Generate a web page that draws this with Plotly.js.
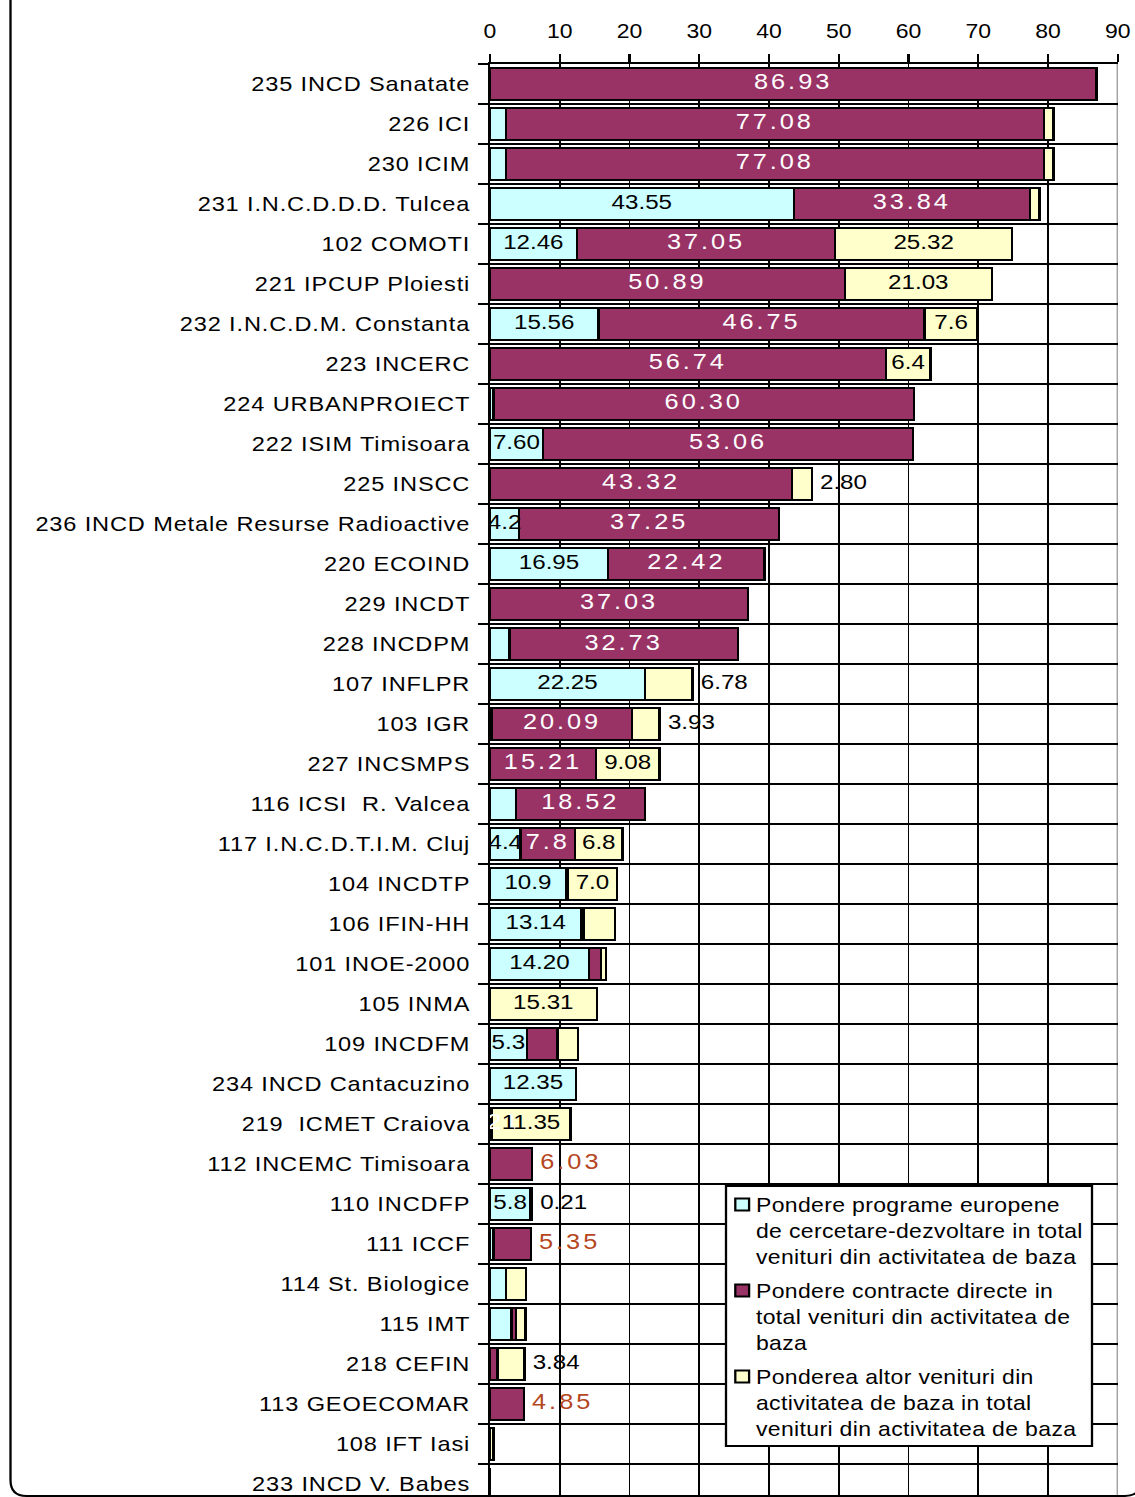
<!DOCTYPE html>
<html>
<head>
<meta charset="utf-8">
<script src="https://cdn.plot.ly/plotly-3.0.1.min.js"></script>
<style>
  html, body { margin: 0; padding: 0; background: #fff; overflow: hidden; }
  #wrap { width: 987px; height: 1497px; transform: scaleX(1.15); transform-origin: 0 0; }
  .ytick text { letter-spacing: 0.75px; }
  .legendtext { letter-spacing: 0.3px; }
  .legend .legendsymbols { transform: translateX(8px); }
  .textpoint text[style*="rgb(255, 255, 255)"],
  .textpoint text[style*="rgb(181, 70, 30)"] { letter-spacing: 2.6px; }
</style>
</head>
<body>
<div id="wrap"><div id="chart"></div></div>
<script>
// ---------------- DATA (top to bottom) ----------------
const categories = [
  "235 INCD Sanatate", "226 ICI", "230 ICIM", "231 I.N.C.D.D.D. Tulcea", "102 COMOTI",
  "221 IPCUP Ploiesti", "232 I.N.C.D.M. Constanta", "223 INCERC", "224 URBANPROIECT",
  "222 ISIM Timisoara", "225 INSCC", "236 INCD Metale Resurse Radioactive", "220 ECOIND",
  "229 INCDT", "228 INCDPM", "107 INFLPR", "103 IGR", "227 INCSMPS", "116 ICSI\u00a0 R. Valcea",
  "117 I.N.C.D.T.I.M. Cluj", "104 INCDTP", "106 IFIN-HH", "101 INOE-2000", "105 INMA",
  "109 INCDFM", "234 INCD Cantacuzino", "219\u00a0 ICMET Craiova", "112 INCEMC Timisoara",
  "110 INCDFP", "111 ICCF", "114 St. Biologice", "115 IMT", "218 CEFIN", "113 GEOECOMAR",
  "108 IFT Iasi", "233 INCD V. Babes"
];

const seriesNames = [
  "Pondere programe europene<br>de cercetare-dezvoltare in total<br>venituri din activitatea de baza",
  "Pondere contracte directe in<br>total venituri din activitatea de<br>baza",
  "Ponderea altor venituri din<br>activitatea de baza in total<br>venituri din activitatea de baza"
];

const european = [0, 2.3, 2.3, 43.55, 12.46, 0, 15.56, 0, 0.5, 7.60, 0, 4.2, 16.95, 0, 2.8,
  22.25, 0.3, 0, 3.7, 4.4, 10.9, 13.14, 14.20, 0, 5.3, 12.35, 0, 0, 5.8, 0.5, 2.3, 3.1, 0, 0, 0, 0];
const contracts = [86.93, 77.08, 77.08, 33.84, 37.05, 50.89, 46.75, 56.74, 60.30, 53.06, 43.32,
  37.25, 22.42, 37.03, 32.73, 0, 20.09, 15.21, 18.52, 7.8, 0.3, 0.3, 1.7, 0, 4.4, 0, 0.21, 6.03,
  0, 5.35, 0, 0.6, 1.1, 4.85, 0, 0];
const others = [0, 1.4, 1.4, 1.4, 25.32, 21.03, 7.6, 6.4, 0, 0, 2.80, 0, 0, 0, 0, 6.78, 3.93,
  9.08, 0, 6.8, 7.0, 4.5, 0.7, 15.31, 2.9, 0, 11.35, 0, 0.21, 0, 2.9, 1.4, 3.84, 0, 0.5, 0];

const europeanLabels = ["", "", "", "43.55", "12.46", "", "15.56", "", "", "7.60", "", "4.2",
  "16.95", "", "", "22.25", "", "", "", "4.4", "10.9", "13.14", "14.20", "", "5.3", "12.35",
  "", "", "5.8", "", "", "", "", "", "", ""];
const contractsLabels = ["86.93", "77.08", "77.08", "33.84", "37.05", "50.89", "46.75", "56.74",
  "60.30", "53.06", "43.32", "37.25", "22.42", "37.03", "32.73", "", "20.09", "15.21", "18.52",
  "7.8", "", "", "", "", "", "", "0.21", "", "", "", "", "", "", "", "", ""];
const contractsLabelsOut = ["", "", "", "", "", "", "", "", "", "", "", "", "", "", "", "", "",
  "", "", "", "", "", "", "", "", "", "", "6.03", "", "5.35", "", "", "", "4.85", "", ""];
const othersLabels = ["", "", "", "", "25.32", "21.03", "7.6", "6.4", "", "", "", "", "", "",
  "", "", "", "9.08", "", "6.8", "7.0", "", "", "15.31", "", "", "11.35", "", "", "", "", "",
  "", "", "", ""];
const othersLabelsOut = ["", "", "", "", "", "", "", "", "", "", "2.80", "", "", "", "", "6.78",
  "3.93", "", "", "", "", "", "", "", "", "", "", "", "0.21", "", "", "", "3.84", "", "", ""];

const xTicks = [0, 10, 20, 30, 40, 50, 60, 70, 80, 90];

// ---------------- STYLE ----------------
const FONT = "Liberation Sans, Arial, sans-serif";
const COLORS = ["#CCFFFF", "#993366", "#FFFFCC"];

const cum1 = european.map(v => v);
const cum2 = european.map((v, i) => v + contracts[i]);
const totals = european.map((v, i) => v + contracts[i] + others[i]);

function barTrace(vals, name, color, grp) {
  return {
    type: "bar", orientation: "h", x: vals, y: categories, name: name, legendgroup: grp,
    marker: { color: color, line: { color: "#000", width: 2 } },
    hoverinfo: "x+y"
  };
}
function textTrace(xs, labels, color, size, pos) {
  const outside = pos !== "middle center";
  return {
    type: "scatter", mode: outside ? "markers+text" : "text", x: xs, y: categories, text: labels,
    marker: { size: 10, opacity: 0 },
    textposition: pos, textfont: { family: FONT, size: size, color: color },
    showlegend: false, hoverinfo: "skip", cliponaxis: false
  };
}

const traces = [
  barTrace(european, seriesNames[0], COLORS[0], "g1"),
  barTrace(contracts, seriesNames[1], COLORS[1], "g2"),
  barTrace(others, seriesNames[2], COLORS[2], "g3"),
  textTrace(european.map(v => v / 2), europeanLabels, "#000", 21, "middle center"),
  textTrace(contracts.map((v, i) => cum1[i] + v / 2), contractsLabels, "rgb(255,255,255)", 22, "middle center"),
  textTrace(others.map((v, i) => cum2[i] + v / 2), othersLabels, "#000", 21, "middle center"),
  textTrace(totals, contractsLabelsOut, "rgb(181,70,30)", 22, "middle right"),
  textTrace(totals, othersLabelsOut, "#000", 21, "middle right")
];

// geometry helpers (screen px -> paper units)
const L = 426, R = 15, W = 987, H = 1497, T = 64, B = 0;
const pw = W - L - R, ph = H - T - B;
const px2x = (sx) => (sx / 1.15 - L) / pw;
const py2y = (py) => (H - B - py) / ph;

// rounded chart border
const xL = px2x(10.5), xR = px2x(1141), yb = py2y(1496), yt = 1.06;
const rx = 16 / 1.15 / pw, ry = 16 / ph;
const framePath = `M ${xL},${yt} L ${xL},${yb + ry} Q ${xL},${yb} ${xL + rx},${yb} ` +
  `L ${xR - rx},${yb} Q ${xR},${yb} ${xR},${yb + ry} L ${xR},${yt}`;

const layout = {
  width: W, height: H,
  margin: { l: L, r: R, t: T, b: B, pad: 0 },
  paper_bgcolor: "#fff", plot_bgcolor: "#fff",
  barmode: "stack", bargap: 0.22,
  font: { family: FONT, color: "#000" },
  showlegend: true,
  legend: {
    x: px2x(710), xanchor: "left", y: py2y(1185), yanchor: "top",
    bgcolor: "rgba(0,0,0,0)", borderwidth: 0,
    font: { family: FONT, size: 20, color: "#000" },
    traceorder: "grouped", valign: "top", itemwidth: 30, tracegroupgap: 5
  },
  xaxis: {
    side: "top", range: [0, 90], tickvals: xTicks, ticktext: xTicks.map(String),
    showline: true, linecolor: "#000", linewidth: 2,
    ticks: "outside", ticklen: 8, tickwidth: 2, tickcolor: "#000",
    ticklabelstandoff: 8,
    showgrid: true, gridcolor: "#000", gridwidth: 1.6, zeroline: false,
    tickfont: { family: FONT, size: 20, color: "#000" }, fixedrange: true
  },
  yaxis: {
    type: "category", range: [-0.5 + ph / 40, -0.5],
    showline: true, linecolor: "#000", linewidth: 2,
    ticks: "outside", ticklen: 8, tickwidth: 2, tickcolor: "#000", tickson: "boundaries",
    ticklabelstandoff: 11,
    showgrid: true, gridcolor: "#000", gridwidth: 2, zeroline: false,
    tickfont: { family: FONT, size: 20.5, color: "#000" }, fixedrange: true,
    automargin: false
  },
  shapes: [
    { type: "line", xref: "x", yref: "paper", x0: 90, x1: 90, y0: 0, y1: 1,
      line: { color: "#8c8c8c", width: 2 }, layer: "below" },
    { type: "rect", xref: "paper", yref: "paper",
      x0: px2x(726), x1: px2x(1092), y0: py2y(1446), y1: py2y(1186),
      line: { color: "#000", width: 2 }, fillcolor: "#fff", layer: "above" },
    { type: "path", xref: "paper", yref: "paper", path: framePath,
      line: { color: "#000", width: 2 }, fillcolor: "rgba(0,0,0,0)", layer: "above" }
  ]
};

Plotly.newPlot("chart", traces, layout, { displayModeBar: false, staticPlot: true });
</script>
</body>
</html>
